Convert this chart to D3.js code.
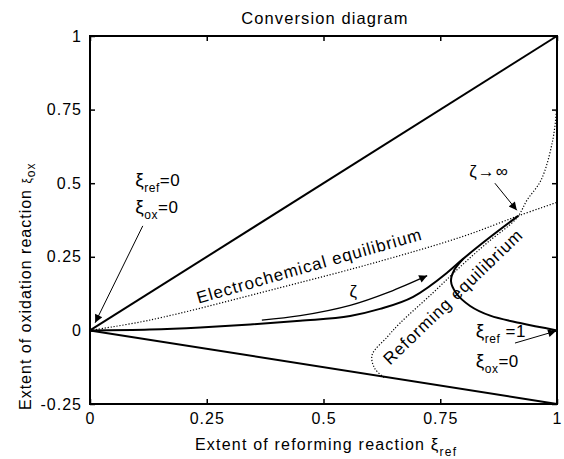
<!DOCTYPE html>
<html>
<head>
<meta charset="utf-8">
<script src="https://cdn.jsdelivr.net/npm/d3@7"></script>
<style>
  body { margin: 0; background: #fff; }
  svg { font-family: "Liberation Sans", Arial, sans-serif; }
  svg text { letter-spacing: 1px; }
</style>
</head>
<body>
<svg id="chart" width="564" height="459"></svg>
<script>
// tick values and labels
const xTicks = [0, 0.25, 0.5, 0.75, 1];
const xTickLabels = ["0", "0.25", "0.5", "0.75", "1"];
const yTicks = [-0.25, 0, 0.25, 0.5, 0.75, 1];
const yTickLabels = ["-0.25", "0", "0.25", "0.5", "0.75", "1"];

// bounds of the feasible region
const upperBound = [[0, 0], [1, 1]];
const lowerBound = [[0, 0], [1, -0.25]];

// conversion path for increasing zeta
const zetaPath = [[0, 0], [0.128, 0.003], [0.236, 0.010], [0.343, 0.020], [0.45, 0.033],
  [0.557, 0.049], [0.621, 0.073], [0.692, 0.114], [0.764, 0.195], [0.799, 0.243],
  [0.857, 0.317], [0.917, 0.389]];
// branch starting at xi_ref=1, xi_ox=0
const returnBranch = [[1, 0], [0.921, 0.025], [0.857, 0.05], [0.814, 0.083], [0.784, 0.127],
  [0.773, 0.168], [0.780, 0.205], [0.799, 0.243]];
// electrochemical equilibrium (dotted)
const electroEq = [[0, 0], [0.128, 0.035], [0.407, 0.145], [0.621, 0.235], [0.8, 0.32],
  [0.917, 0.389], [1, 0.435]];
// reforming equilibrium (dotted)
const reformEq = [[1, 0.766], [0.991, 0.647], [0.966, 0.511], [0.936, 0.443], [0.914, 0.382],
  [0.85, 0.297], [0.792, 0.215], [0.734, 0.127], [0.664, 0.025], [0.636, -0.023],
  [0.604, -0.084], [0.61, -0.13], [0.63, -0.16]];
// thin arrow for zeta
const zetaArrow = [[0.368, 0.035], [0.45, 0.05], [0.557, 0.085], [0.64, 0.13], [0.722, 0.186]];

const svg = d3.select("#chart");
const margin = {left: 90, right: 7, top: 36, bottom: 55};
const W = 564, H = 459;

const x = d3.scaleLinear().domain([0, 1]).range([margin.left, W - margin.right]);
const y = d3.scaleLinear().domain([-0.25, 1]).range([H - margin.bottom, margin.top]);

const defs = svg.append("defs");
defs.append("marker")
    .attr("id", "head")
    .attr("viewBox", "0 0 10 10")
    .attr("refX", 10).attr("refY", 5)
    .attr("markerWidth", 13).attr("markerHeight", 8)
    .attr("markerUnits", "userSpaceOnUse")
    .attr("orient", "auto")
  .append("path")
    .attr("d", "M0,0L10,5L0,10z")
    .attr("fill", "#000");

// axes, ticks pointing inwards
svg.append("g")
    .attr("transform", "translate(0," + y(-0.25) + ")")
    .call(d3.axisBottom(x).tickValues(xTicks).tickSizeInner(-5).tickSizeOuter(0)
      .tickPadding(9).tickFormat((d, i) => xTickLabels[i]));
svg.append("g")
    .attr("transform", "translate(0," + y(1) + ")")
    .call(d3.axisTop(x).tickValues(xTicks).tickSizeInner(-5).tickSizeOuter(0).tickFormat(""));
svg.append("g")
    .attr("transform", "translate(" + x(0) + ",0)")
    .call(d3.axisLeft(y).tickValues(yTicks).tickSizeInner(-5).tickSizeOuter(0)
      .tickPadding(8).tickFormat((d, i) => yTickLabels[i]));
svg.append("g")
    .attr("transform", "translate(" + x(1) + ",0)")
    .call(d3.axisRight(y).tickValues(yTicks).tickSizeInner(-5).tickSizeOuter(0).tickFormat(""));

svg.selectAll(".domain").remove();
svg.selectAll(".tick line").attr("stroke", "#000").attr("stroke-width", 1.5);
svg.selectAll(".tick text").attr("fill", "#000").style("font-size", "16px")
    .style("font-family", '"Liberation Sans", Arial, sans-serif');

svg.append("rect")
    .attr("x", x(0)).attr("y", y(1))
    .attr("width", x(1) - x(0)).attr("height", y(-0.25) - y(1))
    .attr("fill", "none").attr("stroke", "#000").attr("stroke-width", 2);

const line = d3.line().x(d => x(d[0])).y(d => y(d[1]));
const smooth = d3.line().x(d => x(d[0])).y(d => y(d[1])).curve(d3.curveCatmullRom);
const mono = d3.line().x(d => x(d[0])).y(d => y(d[1])).curve(d3.curveMonotoneX);

svg.append("path").datum(upperBound).attr("d", line)
    .attr("fill", "none").attr("stroke", "#000").attr("stroke-width", 2);
svg.append("path").datum(lowerBound).attr("d", line)
    .attr("fill", "none").attr("stroke", "#000").attr("stroke-width", 2);

svg.append("path").datum(electroEq).attr("d", smooth)
    .attr("fill", "none").attr("stroke", "#000").attr("stroke-width", 1.2)
    .attr("stroke-dasharray", "1.2,1.8");
svg.append("path").datum(reformEq).attr("d", smooth)
    .attr("fill", "none").attr("stroke", "#000").attr("stroke-width", 1.2)
    .attr("stroke-dasharray", "1.2,1.8");

svg.append("path").datum(zetaPath).attr("d", mono)
    .attr("fill", "none").attr("stroke", "#000").attr("stroke-width", 2);
svg.append("path").datum(returnBranch).attr("d", smooth)
    .attr("fill", "none").attr("stroke", "#000").attr("stroke-width", 2);

svg.append("path").datum(zetaArrow).attr("d", smooth)
    .attr("fill", "none").attr("stroke", "#000").attr("stroke-width", 1.3)
    .attr("marker-end", "url(#head)");

// straight annotation arrows [from, to]
const annoArrows = [
  [[0.113, 0.355], [0.011, 0.026]],
  [[0.91, -0.043], [0.998, -0.002]],
  [[0.867, 0.50], [0.914, 0.408]]
];
annoArrows.forEach(a => {
  svg.append("line")
      .attr("x1", x(a[0][0])).attr("y1", y(a[0][1]))
      .attr("x2", x(a[1][0])).attr("y2", y(a[1][1]))
      .attr("stroke", "#000").attr("stroke-width", 1)
      .attr("marker-end", "url(#head)");
});

// labels with subscripts
function xiLabel(px, py, sub, rest) {
  const t = svg.append("text").attr("x", px).attr("y", py)
      .style("font-size", "17px").style("letter-spacing", "0.5px").attr("fill", "#000");
  t.append("tspan").style("font-size", "19px").text("ξ");
  t.append("tspan").attr("dy", 6).style("font-size", "12px").text(sub);
  t.append("tspan").attr("dy", -6).text(rest);
}
xiLabel(x(0.097), y(0.49), "ref", "=0");
xiLabel(x(0.097), y(0.40), "ox", "=0");
xiLabel(x(0.826), y(-0.022), "ref", " =1");
xiLabel(x(0.826), y(-0.125), "ox", "=0");

svg.append("text").attr("x", x(0.812)).attr("y", y(0.52))
    .style("font-size", "17px").text("ζ→∞");
svg.append("text").attr("x", x(0.565)).attr("y", y(0.115))
    .attr("text-anchor", "middle").style("font-size", "17px").text("ζ");

svg.append("text")
    .attr("transform", "translate(" + x(0.473) + "," + y(0.2) + ")rotate(-16)")
    .attr("text-anchor", "middle").style("font-size", "17px")
    .text("Electrochemical equilibrium");
svg.append("text")
    .attr("transform", "translate(" + x(0.786) + "," + y(0.10) + ")rotate(-44)")
    .attr("text-anchor", "middle").style("font-size", "17px")
    .text("Reforming equilibrium");

// title and axis labels
svg.append("text").attr("x", 325).attr("y", 24)
    .attr("text-anchor", "middle").style("font-size", "16.5px").style("letter-spacing", "1.1px")
    .text("Conversion diagram");

const xl = svg.append("text").attr("x", 195).attr("y", 450)
    .style("font-size", "16px").style("letter-spacing", "1.2px");
xl.append("tspan").text("Extent of reforming reaction  ");
xl.append("tspan").style("font-size", "17px").text("ξ");
xl.append("tspan").attr("dy", 6).style("font-size", "12px").text("ref");

const yl = svg.append("text")
    .attr("transform", "translate(31,410)rotate(-90)")
    .style("font-size", "16px").style("letter-spacing", "1px");
yl.append("tspan").text("Extent of oxidation reaction ");
yl.append("tspan").style("font-size", "12px").text("ξ");
yl.append("tspan").attr("dy", 4).style("font-size", "12px").text("ox");
</script>
</body>
</html>
